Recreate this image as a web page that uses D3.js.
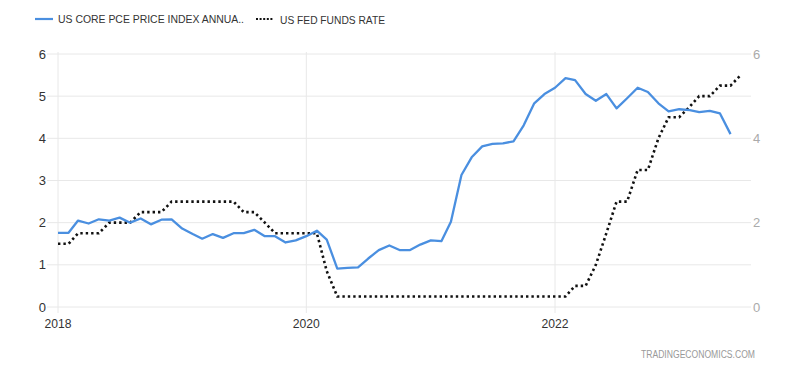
<!DOCTYPE html>
<html>
<head>
<meta charset="utf-8">
<script src="https://cdn.jsdelivr.net/npm/d3@7"></script>
<style>
  body { margin: 0; background: #fff; }
  svg { display: block; }
</style>
</head>
<body>
<div id="container"></div>
<script>
// monthly core PCE yoy, Jan 2018 - Jun 2023
const pceValues = [
  1.76, 1.76, 2.05, 1.98, 2.08, 2.05, 2.12, 2.0, 2.1, 1.96, 2.07, 2.08,
  1.86, 1.73, 1.62, 1.73, 1.64, 1.75, 1.75, 1.83, 1.68, 1.68, 1.53, 1.58,
  1.68, 1.81, 1.6, 0.91, 0.93, 0.94, 1.15, 1.35, 1.46, 1.35, 1.35, 1.48,
  1.58, 1.56, 2.02, 3.13, 3.55, 3.81, 3.87, 3.88, 3.93, 4.31, 4.83, 5.05,
  5.2, 5.43, 5.38, 5.05, 4.89, 5.05, 4.71, 4.95, 5.2, 5.1, 4.83, 4.64,
  4.69, 4.67, 4.62, 4.65, 4.59, 4.1
];
// monthly fed funds rate, Jan 2018 - Jul 2023
const fedValues = [
  1.5, 1.5, 1.75, 1.75, 1.75, 2.0, 2.0, 2.0, 2.25, 2.25, 2.25, 2.5,
  2.5, 2.5, 2.5, 2.5, 2.5, 2.5, 2.25, 2.25, 2.0, 1.75, 1.75, 1.75,
  1.75, 1.75, 0.85, 0.25, 0.25, 0.25, 0.25, 0.25, 0.25, 0.25, 0.25, 0.25,
  0.25, 0.25, 0.25, 0.25, 0.25, 0.25, 0.25, 0.25, 0.25, 0.25, 0.25, 0.25,
  0.25, 0.25, 0.5, 0.5, 1.0, 1.75, 2.5, 2.5, 3.25, 3.25, 4.0, 4.5,
  4.5, 4.75, 5.0, 5.0, 5.25, 5.25, 5.5
];
const yTicksLeft = [0, 1, 2, 3, 4, 5, 6];
const yTicksRight = [0, 2, 4, 6];
const xTickYears = [2018, 2020, 2022];
const legendLabels = ['US CORE PCE PRICE INDEX ANNUA..', 'US FED FUNDS RATE'];

const width = 800, height = 372;
const tickFont = '"Liberation Sans", Arial, sans-serif';

const monthDate = (i) => new Date(2018, i, 1);

const svg = d3.select('#container').append('svg')
  .attr('width', width)
  .attr('height', height);

const x = d3.scaleTime()
  .domain([new Date(2018, 0, 1), new Date(2022, 0, 1)])
  .range([58, 555]);
const y = d3.scaleLinear().domain([0, 6]).range([307, 54]);

// grid
svg.append('g')
  .selectAll('line')
  .data(yTicksLeft)
  .enter()
  .append('line')
  .attr('x1', 47)
  .attr('x2', 751)
  .attr('y1', (d) => y(d))
  .attr('y2', (d) => y(d))
  .attr('stroke', '#e8e8e8')
  .attr('stroke-width', 1);

svg.append('g')
  .selectAll('line')
  .data(xTickYears)
  .enter()
  .append('line')
  .attr('x1', (d) => x(new Date(d, 0, 1)))
  .attr('x2', (d) => x(new Date(d, 0, 1)))
  .attr('y1', y(6) - 2)
  .attr('y2', y(0) + 6)
  .attr('stroke', '#e8e8e8')
  .attr('stroke-width', 1);

// left axis labels
svg.append('g')
  .selectAll('text')
  .data(yTicksLeft)
  .enter()
  .append('text')
  .attr('x', 46)
  .attr('y', (d) => y(d))
  .attr('dy', '0.35em')
  .attr('text-anchor', 'end')
  .style('font-family', tickFont)
  .style('font-size', '13px')
  .style('fill', '#333')
  .text((d) => d);

// right axis labels
svg.append('g')
  .selectAll('text')
  .data(yTicksRight)
  .enter()
  .append('text')
  .attr('x', 753)
  .attr('y', (d) => y(d))
  .attr('dy', '0.35em')
  .attr('text-anchor', 'start')
  .style('font-family', tickFont)
  .style('font-size', '13px')
  .style('fill', '#aaa')
  .text((d) => d);

// x labels
svg.append('g')
  .selectAll('text')
  .data(xTickYears)
  .enter()
  .append('text')
  .attr('x', (d) => x(new Date(d, 0, 1)))
  .attr('y', 328)
  .attr('text-anchor', 'middle')
  .attr('textLength', 27)
  .attr('lengthAdjust', 'spacingAndGlyphs')
  .style('font-family', tickFont)
  .style('font-size', '13px')
  .style('fill', '#333')
  .text((d) => d);

const line = d3.line()
  .x((d, i) => x(monthDate(i)))
  .y((d) => y(d));

svg.append('path')
  .datum(fedValues)
  .attr('d', line)
  .attr('fill', 'none')
  .attr('stroke', '#111')
  .attr('stroke-width', 2.6)
  .attr('stroke-dasharray', '2.4,3');

svg.append('path')
  .datum(pceValues)
  .attr('d', line)
  .attr('fill', 'none')
  .attr('stroke', '#4a8fe0')
  .attr('stroke-width', 2.3)
  .attr('stroke-linejoin', 'round');

// legend
const legend = svg.append('g').style('font-family', 'Arial, "Liberation Sans", sans-serif');
legend.append('line')
  .attr('x1', 35).attr('x2', 53).attr('y1', 19).attr('y2', 19)
  .attr('stroke', '#4a8fe0').attr('stroke-width', 2.2);
legend.append('text')
  .attr('x', 58).attr('y', 23)
  .attr('textLength', 186)
  .attr('lengthAdjust', 'spacingAndGlyphs')
  .style('font-size', '11px').style('fill', '#333')
  .text(legendLabels[0]);
legend.append('line')
  .attr('x1', 256).attr('x2', 273).attr('y1', 19).attr('y2', 19)
  .attr('stroke', '#111').attr('stroke-width', 2.2)
  .attr('stroke-dasharray', '2,1.6');
legend.append('text')
  .attr('x', 280).attr('y', 24)
  .attr('textLength', 105)
  .attr('lengthAdjust', 'spacingAndGlyphs')
  .style('font-size', '11px').style('fill', '#333')
  .text(legendLabels[1]);

svg.append('text')
  .attr('x', 755).attr('y', 358)
  .attr('text-anchor', 'end')
  .attr('textLength', 114)
  .attr('lengthAdjust', 'spacingAndGlyphs')
  .style('font-family', tickFont)
  .style('font-size', '10px')
  .style('fill', '#999')
  .text('TRADINGECONOMICS.COM');
</script>
</body>
</html>
